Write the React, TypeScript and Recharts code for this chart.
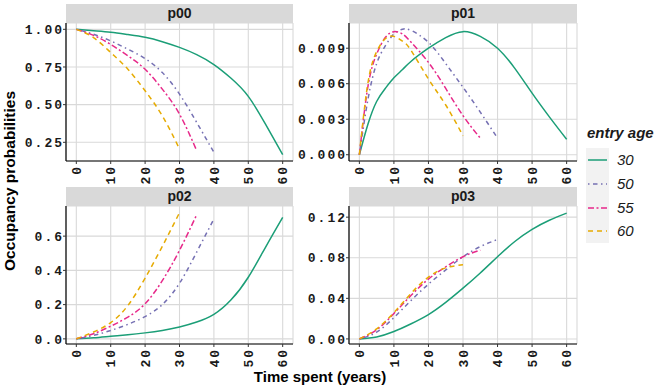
import React from 'react';
import { LineChart, Line, XAxis, YAxis, CartesianGrid } from 'recharts';

// ---- data ----

const TIMES = [0, 5, 10, 15, 20, 25, 30, 35, 40, 45, 50, 55, 60];
const TIMES_P01 = [0, 2.5, 5, 7.5, 10, 12.5, 15, 20, 25, 30, 35, 40, 45, 50, 55, 60];
const X_TICKS = [0, 10, 20, 30, 40, 50, 60];

const AGES = ['30', '50', '55', '60'];
const COLORS = ['#1B9E77', '#7570B3', '#E7298A', '#E6AB02'];
const DASHES = ['0', '1.5 3.5 4.5 3.5', '6 2.5 2 2.5', '5 4'];

const P00_30 = [1.0, 0.99, 0.98, 0.965, 0.947, 0.918, 0.88, 0.832, 0.766, 0.675, 0.555, 0.37, 0.168];
const P00_50 = [1.0, 0.967, 0.923, 0.868, 0.806, 0.713, 0.57, 0.382, 0.184];
const P00_55 = [1.0, 0.96, 0.9, 0.824, 0.735, 0.603, 0.437, 0.195];
const P00_60 = [1.0, 0.945, 0.846, 0.735, 0.592, 0.426, 0.206];

const P01_30 = [0, 0.0026, 0.0045, 0.0056, 0.0065, 0.0072, 0.0079, 0.009, 0.0099, 0.0104, 0.01, 0.009, 0.0073, 0.0052, 0.0032, 0.0013];
const P01_50 = [0, 0.0047, 0.0077, 0.0092, 0.0102, 0.0106, 0.0105, 0.0095, 0.0077, 0.0057, 0.0036, 0.0014];
const P01_55 = [0, 0.0058, 0.0085, 0.0099, 0.0104, 0.0102, 0.0095, 0.0078, 0.0056, 0.0033, 0.0014];
const P01_60 = [0, 0.0061, 0.0087, 0.0098, 0.01, 0.0096, 0.0088, 0.0064, 0.0042, 0.0016];

const P02_30 = [0, 0.006, 0.015, 0.024, 0.035, 0.049, 0.069, 0.098, 0.143, 0.228, 0.36, 0.535, 0.71];
const P02_50 = [0, 0.02, 0.049, 0.085, 0.13, 0.2, 0.325, 0.507, 0.7];
const P02_55 = [0, 0.03, 0.074, 0.127, 0.205, 0.34, 0.517, 0.725];
const P02_60 = [0, 0.04, 0.095, 0.195, 0.355, 0.54, 0.737];

const P03_30 = [0, 0.002, 0.0073, 0.015, 0.024, 0.036, 0.05, 0.065, 0.081, 0.096, 0.108, 0.117, 0.124];
const P03_50 = [0, 0.0066, 0.021, 0.038, 0.054, 0.068, 0.081, 0.091, 0.098];
const P03_55 = [0, 0.009, 0.025, 0.043, 0.059, 0.071, 0.081, 0.0875];
const P03_60 = [0, 0.0099, 0.026, 0.045, 0.061, 0.07, 0.073];

const buildRows = (times: number[], series: number[][]) =>
  times.map((t, i) => {
    const row: any = { t };
    series.forEach((s, k) => {
      row['a' + AGES[k]] = s[i];
    });
    return row;
  });

// ---- styles ----

const MONO = '"Liberation Mono", "DejaVu Sans Mono", monospace';
const SANS = '"Liberation Sans", Arial, sans-serif';
const GRID = '#D9D9D9';

const XTick = ({ x, y, payload }: any) => (
  <text
    x={x}
    y={y}
    transform={`rotate(-90 ${x} ${y})`}
    textAnchor="end"
    dy="0.36em"
    fontFamily={MONO}
    fontWeight="bold"
    fontSize={13}
    letterSpacing={2}
    fill="#1a1a1a"
  >
    {payload.value}
  </text>
);

const makeYTick = (digits: number) => ({ x, y, payload }: any) => (
  <text
    x={x + 2}
    y={y}
    textAnchor="end"
    dy="0.36em"
    fontFamily={MONO}
    fontWeight="bold"
    fontSize={13}
    letterSpacing={2}
    fill="#1a1a1a"
  >
    {payload.value.toFixed(digits)}
  </text>
);

interface PanelProps {
  title: string;
  rows: any[];
  left: number;
  top: number;
  rightMargin: number;
  yDomain: number[];
  yTicks: number[];
  digits: number;
}

const Panel = ({ title, rows, left, top, rightMargin, yDomain, yTicks, digits }: PanelProps) => {
  const plotWidth = 300 - 66 - rightMargin;
  return (
    <>
      <div
        style={{
          position: 'absolute',
          left: left + 66,
          top: top - 19,
          width: plotWidth,
          height: 19,
          background: '#D9D9D9',
          fontFamily: SANS,
          fontWeight: 'bold',
          fontSize: 14,
          lineHeight: '19px',
          textAlign: 'center',
          color: '#1a1a1a',
        }}
      >
        {title}
      </div>
      <div style={{ position: 'absolute', left, top }}>
        <LineChart width={300} height={172} data={rows} margin={{ top: 0, right: rightMargin, bottom: 0, left: 0 }}>
          <CartesianGrid stroke={GRID} strokeWidth={1.1} />
          <XAxis
            dataKey="t"
            type="number"
            domain={[-3, 63]}
            ticks={X_TICKS}
            allowDataOverflow
            height={34}
            tickSize={3}
            tickMargin={1}
            axisLine={{ stroke: '#000', strokeWidth: 1.2 }}
            tickLine={{ stroke: '#333' }}
            tick={<XTick />}
            interval={0}
          />
          <YAxis
            type="number"
            domain={yDomain}
            ticks={yTicks}
            allowDataOverflow
            width={66}
            tickSize={3}
            tickMargin={1}
            axisLine={{ stroke: '#000', strokeWidth: 1.2 }}
            tickLine={{ stroke: '#333' }}
            tick={makeYTick(digits)}
            interval={0}
          />
          {AGES.map((age, k) => (
            <Line
              key={age}
              dataKey={'a' + age}
              type="natural"
              stroke={COLORS[k]}
              strokeWidth={1.5}
              strokeDasharray={DASHES[k]}
              dot={false}
              activeDot={false}
              isAnimationActive={false}
            />
          ))}
        </LineChart>
      </div>
    </>
  );
};

const LegendBox = () => (
  <div style={{ position: 'absolute', left: 586, top: 118 }}>
    <div
      style={{
        position: 'absolute',
        left: 1,
        top: 6,
        whiteSpace: 'nowrap',
        fontFamily: SANS,
        fontWeight: 'bold',
        fontStyle: 'italic',
        fontSize: 15,
        color: '#1a1a1a',
      }}
    >
      entry age
    </div>
    <div style={{ position: 'absolute', left: 0, top: 30, width: 23, height: 95, background: '#F2F2F2' }} />
    {AGES.map((age, k) => (
      <div key={age} style={{ position: 'absolute', left: 0, top: 30 + k * 23.75, height: 23.75, width: 80 }}>
        <svg width={23} height={23.75} style={{ position: 'absolute', left: 0, top: 0 }}>
          <line x1={2} x2={21} y1={12} y2={12} stroke={COLORS[k]} strokeWidth={1.5} strokeDasharray={DASHES[k]} />
        </svg>
        <span
          style={{
            position: 'absolute',
            left: 31,
            top: 3,
            fontFamily: SANS,
            fontStyle: 'italic',
            fontSize: 15,
            color: '#1a1a1a',
          }}
        >
          {age}
        </span>
      </div>
    ))}
  </div>
);

export default function App() {
  const rows00 = buildRows(TIMES, [P00_30, P00_50, P00_55, P00_60]);
  const rows01 = buildRows(TIMES_P01, [P01_30, P01_50, P01_55, P01_60]);
  const rows02 = buildRows(TIMES, [P02_30, P02_50, P02_55, P02_60]);
  const rows03 = buildRows(TIMES, [P03_30, P03_50, P03_55, P03_60]);

  return (
    <div style={{ position: 'absolute', left: 0, top: 0, width: 664, height: 391, background: '#fff', overflow: 'hidden' }}>
      <Panel title="p00" rows={rows00} left={0} top={23} rightMargin={7} yDomain={[0.126, 1.042]} yTicks={[0.25, 0.5, 0.75, 1.0]} digits={2} />
      <Panel title="p01" rows={rows01} left={283} top={23} rightMargin={6} yDomain={[-0.00053, 0.01113]} yTicks={[0, 0.003, 0.006, 0.009]} digits={3} />
      <Panel title="p02" rows={rows02} left={0} top={206} rightMargin={7} yDomain={[-0.03, 0.776]} yTicks={[0, 0.2, 0.4, 0.6]} digits={1} />
      <Panel title="p03" rows={rows03} left={283} top={206} rightMargin={6} yDomain={[-0.005, 0.131]} yTicks={[0, 0.04, 0.08, 0.12]} digits={2} />

      <div
        style={{
          position: 'absolute',
          left: 10,
          top: 181,
          transform: 'translate(-50%, -50%) rotate(-90deg)',
          whiteSpace: 'nowrap',
          fontFamily: SANS,
          fontWeight: 'bold',
          fontSize: 15.5,
          color: '#000',
        }}
      >
        Occupancy probabilities
      </div>
      <div
        style={{
          position: 'absolute',
          left: 320,
          top: 368,
          transform: 'translateX(-50%)',
          whiteSpace: 'nowrap',
          fontFamily: SANS,
          fontWeight: 'bold',
          fontSize: 15,
          color: '#000',
        }}
      >
        Time spent (years)
      </div>
      <LegendBox />
    </div>
  );
}
